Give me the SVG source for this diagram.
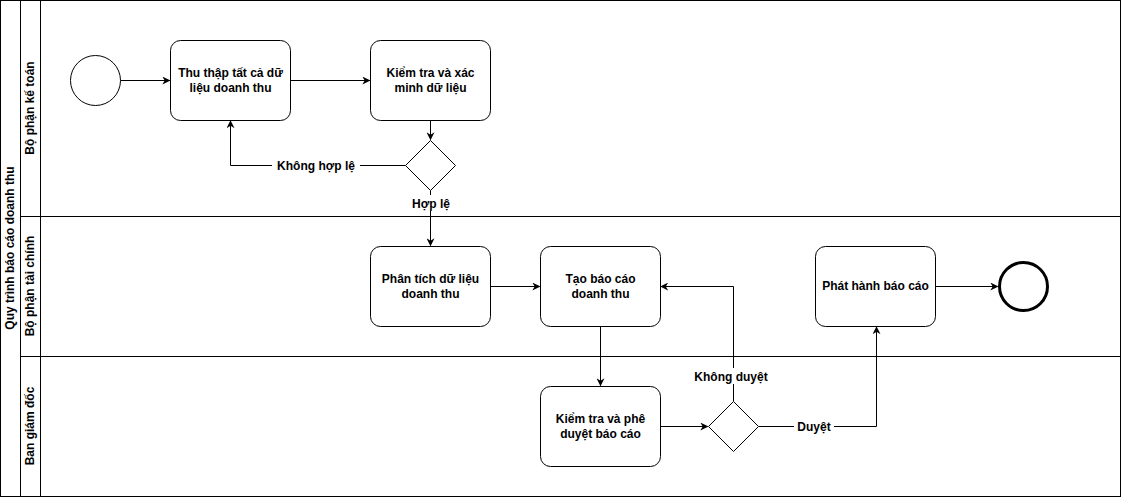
<svg xmlns="http://www.w3.org/2000/svg" width="1121" height="497" viewBox="0 0 1121 497">
<style>
.lane{fill:none;stroke:#000;stroke-width:1}
.task{fill:#fff;stroke:#000;stroke-width:1}
.t{font-family:"Liberation Sans",Arial,sans-serif;font-size:12px;font-weight:bold;fill:#000;text-anchor:middle}
.h{font-family:"Liberation Sans",Arial,sans-serif;font-size:12px;font-weight:bold;fill:#000;text-anchor:middle}
.c{fill:none;stroke:#000;stroke-width:1}
.lbl{fill:#fff}
</style>
<defs>
<marker id="arr" viewBox="0 0 10 10" refX="9" refY="5" markerWidth="8" markerHeight="8" markerUnits="userSpaceOnUse" orient="auto">
<path d="M0,0 L10,5 L0,10 L3,5 Z" fill="#000"/>
</marker>
</defs>
<rect x="0" y="0" width="1121" height="497" fill="#fff"/>
<g id="pool">
<rect class="lane" x="0.5" y="0.5" width="1120" height="496"/>
<line class="lane" x1="20.5" y1="0.5" x2="20.5" y2="496.5"/>
<text class="h" transform="translate(14,248) rotate(-90)">Quy trình báo cáo doanh thu</text>
</g>
<g id="lane1">
<rect class="lane" x="20.5" y="0.5" width="1100" height="216"/>
<line class="lane" x1="40.5" y1="0.5" x2="40.5" y2="216.5"/>
<text class="h" transform="translate(34,108) rotate(-90)">Bộ phận kế toán</text>
</g>
<g id="lane2">
<rect class="lane" x="20.5" y="216.5" width="1100" height="140"/>
<line class="lane" x1="40.5" y1="216.5" x2="40.5" y2="356.5"/>
<text class="h" transform="translate(34,286) rotate(-90)">Bộ phận tài chính</text>
</g>
<g id="lane3">
<rect class="lane" x="20.5" y="356.5" width="1100" height="140"/>
<line class="lane" x1="40.5" y1="356.5" x2="40.5" y2="496.5"/>
<text class="h" transform="translate(34,426) rotate(-90)">Ban giám đốc</text>
</g>
<g id="connectors">
<line class="c" x1="120.5" y1="80.5" x2="169.5" y2="80.5" marker-end="url(#arr)"/>
<line class="c" x1="290.5" y1="80.5" x2="369.5" y2="80.5" marker-end="url(#arr)"/>
<line class="c" x1="430.5" y1="120.5" x2="430.5" y2="139.5" marker-end="url(#arr)"/>
<polyline class="c" points="405.5,165.5 230.5,165.5 230.5,121" marker-end="url(#arr)"/>
<rect class="lbl" x="272" y="157" width="88" height="16"/>
<text class="t" x="316" y="170">Không hợp lệ</text>
<line class="c" x1="430.5" y1="190.5" x2="430.5" y2="245.5" marker-end="url(#arr)"/>
<rect class="lbl" x="408" y="195" width="46" height="16"/>
<text class="t" x="431" y="208">Hợp lệ</text>
<line class="c" x1="490.5" y1="286.5" x2="539.5" y2="286.5" marker-end="url(#arr)"/>
<line class="c" x1="600.5" y1="326.5" x2="600.5" y2="385.5" marker-end="url(#arr)"/>
<line class="c" x1="660.5" y1="426.5" x2="707.5" y2="426.5" marker-end="url(#arr)"/>
<polyline class="c" points="733.5,401.5 733.5,286.5 661,286.5" marker-end="url(#arr)"/>
<rect class="lbl" x="689" y="368" width="84" height="16"/>
<text class="t" x="731" y="381">Không duyệt</text>
<polyline class="c" points="758.5,426.5 876.5,426.5 876.5,327" marker-end="url(#arr)"/>
<rect class="lbl" x="794" y="418" width="40" height="16"/>
<text class="t" x="814" y="431">Duyệt</text>
<line class="c" x1="935.5" y1="286.5" x2="997.5" y2="286.5" marker-end="url(#arr)"/>
</g>
<g id="start">
<circle cx="95.5" cy="80.5" r="25" fill="#fff" stroke="#000" stroke-width="1"/>
</g>
<g id="task1">
<rect class="task" x="170.5" y="40.5" width="120" height="80" rx="10"/>
<text class="t" x="230.5" y="77">Thu thập tất cả dữ</text>
<text class="t" x="230.5" y="92">liệu doanh thu</text>
</g>
<g id="task2">
<rect class="task" x="370.5" y="40.5" width="120" height="80" rx="10"/>
<text class="t" x="430.5" y="77">Kiểm tra và xác</text>
<text class="t" x="430.5" y="92">minh dữ liệu</text>
</g>
<g id="gateway1">
<polygon class="task" points="430.5,140.5 455.5,165.5 430.5,190.5 405.5,165.5"/>
</g>
<g id="task3">
<rect class="task" x="370.5" y="246.5" width="120" height="80" rx="10"/>
<text class="t" x="430.5" y="283">Phân tích dữ liệu</text>
<text class="t" x="430.5" y="298">doanh thu</text>
</g>
<g id="task4">
<rect class="task" x="540.5" y="246.5" width="120" height="80" rx="10"/>
<text class="t" x="600.5" y="283">Tạo báo cáo</text>
<text class="t" x="600.5" y="298">doanh thu</text>
</g>
<g id="task5">
<rect class="task" x="815.5" y="246.5" width="120" height="80" rx="10"/>
<text class="t" x="875.5" y="290">Phát hành báo cáo</text>
</g>
<g id="end">
<circle cx="1023.5" cy="286.5" r="24" fill="#fff" stroke="#000" stroke-width="3"/>
</g>
<g id="task6">
<rect class="task" x="540.5" y="386.5" width="120" height="80" rx="10"/>
<text class="t" x="600.5" y="423">Kiểm tra và phê</text>
<text class="t" x="600.5" y="438">duyệt báo cáo</text>
</g>
<g id="gateway2">
<polygon class="task" points="733.5,401.5 758.5,426.5 733.5,451.5 708.5,426.5"/>
</g>
</svg>
